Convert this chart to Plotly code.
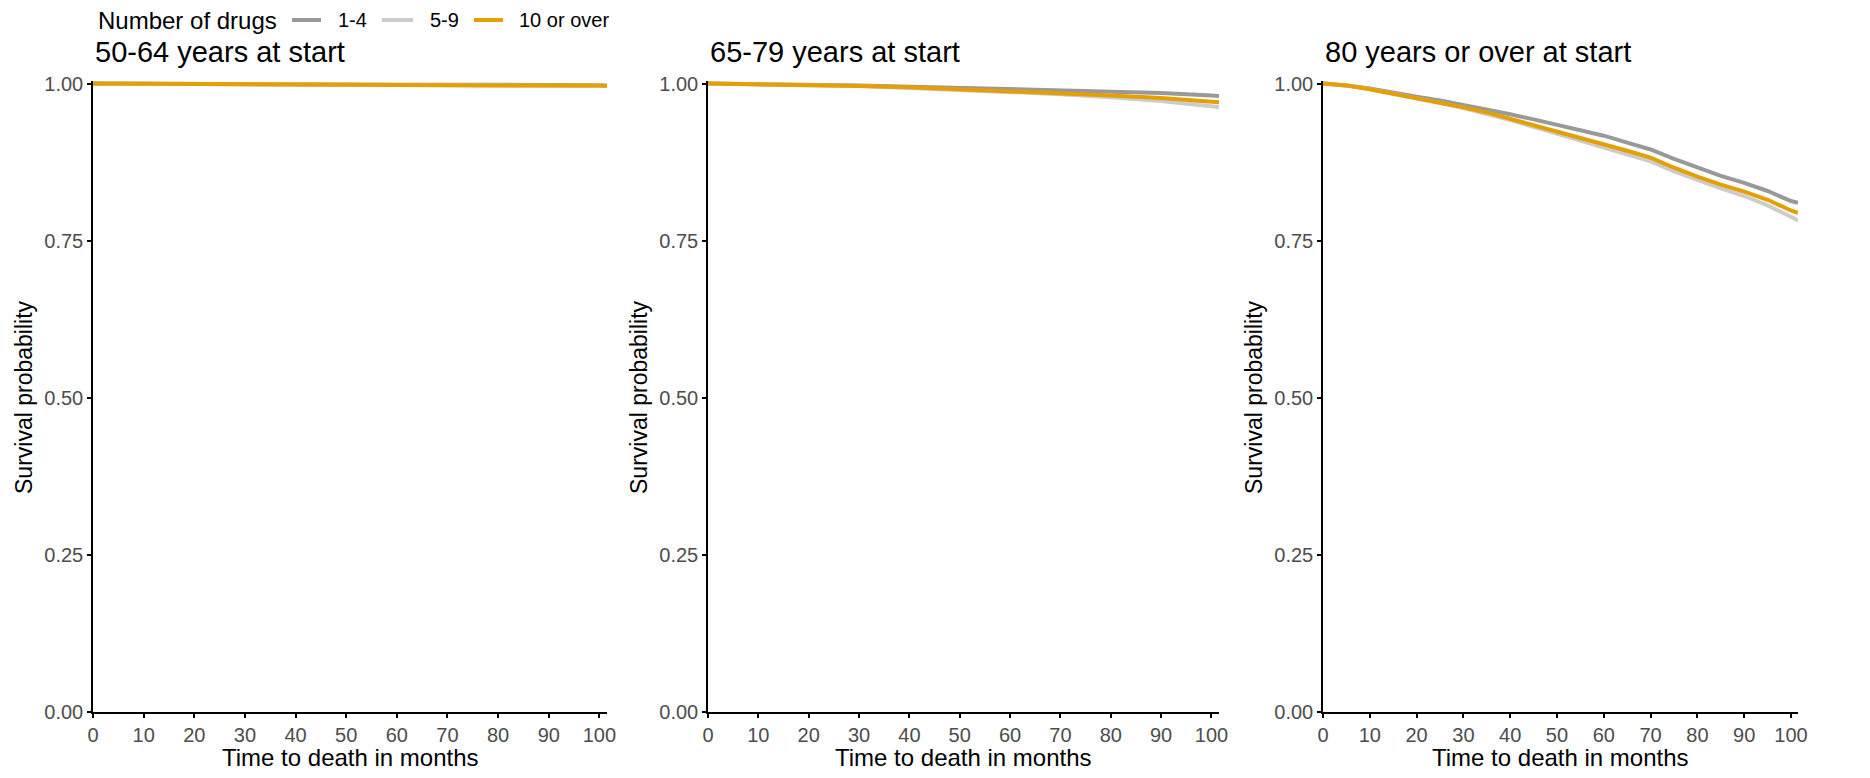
import plotly.graph_objects as go

# Kaplan-Meier survival estimates by number of drugs, read at selected months
groups = ["1-4", "5-9", "10 or over"]
colors = {"1-4": "#999999", "5-9": "#CCCCCC", "10 or over": "#E69F00"}

panel_titles = ["50-64 years at start", "65-79 years at start", "80 years or over at start"]
legend_title = "Number of drugs"

# 50-64 years at start
t_50 = [0, 20, 40, 60, 80, 100, 101.5]
s_50 = {
    "1-4":        [1.000, 0.999, 0.999, 0.998, 0.998, 0.997, 0.997],
    "5-9":        [1.000, 0.999, 0.998, 0.998, 0.997, 0.996, 0.996],
    "10 or over": [1.000, 0.999, 0.999, 0.998, 0.997, 0.997, 0.996],
}

# 65-79 years at start
t_65 = [0, 10, 20, 30, 40, 50, 60, 70, 80, 90, 100, 101.5]
s_65 = {
    "1-4":        [1.000, 0.9995, 0.998, 0.997, 0.995, 0.993, 0.991, 0.989, 0.987, 0.985, 0.981, 0.980],
    "5-9":        [1.000, 0.999, 0.998, 0.996, 0.993, 0.990, 0.987, 0.983, 0.978, 0.972, 0.964, 0.962],
    "10 or over": [1.000, 0.999, 0.998, 0.996, 0.994, 0.991, 0.988, 0.985, 0.981, 0.977, 0.971, 0.970],
}

# 80 years or over at start
t_80 = [0, 5, 10, 15, 20, 25, 30, 35, 40, 45, 50, 55, 60, 65, 70, 75, 80, 85, 90, 95, 100, 101.5]
s_80 = {
    "1-4":        [1.000, 0.997, 0.992, 0.985, 0.979, 0.973, 0.966, 0.959, 0.951, 0.943, 0.934,
                   0.925, 0.917, 0.906, 0.895, 0.880, 0.866, 0.853, 0.842, 0.829, 0.813, 0.810],
    "5-9":        [1.000, 0.997, 0.991, 0.984, 0.977, 0.969, 0.961, 0.952, 0.942, 0.931, 0.920,
                   0.909, 0.899, 0.888, 0.876, 0.860, 0.846, 0.833, 0.821, 0.806, 0.788, 0.782],
    "10 or over": [1.000, 0.997, 0.991, 0.984, 0.977, 0.970, 0.962, 0.954, 0.944, 0.933, 0.923,
                   0.913, 0.904, 0.893, 0.882, 0.866, 0.852, 0.839, 0.828, 0.815, 0.798, 0.794],
}

panels = [(t_50, s_50), (t_65, s_65), (t_80, s_80)]

x_ticks = [0, 10, 20, 30, 40, 50, 60, 70, 80, 90, 100]
y_ticks = [0.0, 0.25, 0.5, 0.75, 1.0]
y_tick_text = ["0.00", "0.25", "0.50", "0.75", "1.00"]

W, H = 1870, 778
FONT = "Liberation Sans, Arial, sans-serif"

# panel extents in pixels (left, right), shared top/bottom
panel_px = [(93, 607), (708, 1219), (1323, 1798)]
top_px, bottom_px = 81, 712

fig = go.Figure()

for i, (t, s) in enumerate(panels):
    ax = "" if i == 0 else str(i + 1)
    for g in groups:
        fig.add_trace(go.Scatter(
            x=t, y=s[g], mode="lines", name=g,
            line=dict(color=colors[g], width=4),
            xaxis="x" + ax, yaxis="y" + ax,
            showlegend=False,
        ))

annotations = []
shapes = []

# horizontal key above the first panel: title, then a line swatch + label per group
key_y = 1 - 20 / H
annotations.append(dict(
    text=legend_title, xref="paper", yref="paper", x=96 / W, y=key_y,
    xanchor="left", yanchor="middle", showarrow=False,
    font=dict(size=24, color="#000000", family=FONT),
))
key_swatch_px = {"1-4": (292, 321), "5-9": (382, 413), "10 or over": (474, 503)}
key_label_px = {"1-4": 336, "5-9": 428, "10 or over": 517}
for g in groups:
    x0, x1 = key_swatch_px[g]
    shapes.append(dict(
        type="line", xref="paper", yref="paper", x0=x0 / W, x1=x1 / W, y0=key_y, y1=key_y,
        line=dict(color=colors[g], width=4),
    ))
    annotations.append(dict(
        text=g, xref="paper", yref="paper", x=key_label_px[g] / W, y=key_y,
        xanchor="left", yanchor="middle", showarrow=False,
        font=dict(size=20, color="#000000", family=FONT),
    ))

layout = dict(
    width=W, height=H,
    margin=dict(l=0, r=0, t=0, b=0, autoexpand=False),
    paper_bgcolor="white", plot_bgcolor="white",
    font=dict(family=FONT, color="#000000"),
    showlegend=False,
)

axis_common = dict(
    showgrid=False, zeroline=False, showline=True, linecolor="black", linewidth=1.5,
    ticks="outside", ticklen=4, tickwidth=1.5, tickcolor="black", automargin=False,
    tickfont=dict(size=20, color="#4D4D4D", family=FONT),
)

for i, (l, r) in enumerate(panel_px):
    ax = "" if i == 0 else str(i + 1)
    layout["xaxis" + ax] = dict(
        axis_common, domain=[l / W, r / W], range=[0, 101.5],
        tickvals=x_ticks, anchor="y" + ax,
    )
    layout["yaxis" + ax] = dict(
        axis_common, domain=[1 - bottom_px / H, 1 - top_px / H], range=[0, 1.004],
        tickvals=y_ticks, ticktext=y_tick_text, anchor="x" + ax,
    )
    # panel title
    annotations.append(dict(
        text=panel_titles[i], xref="paper", yref="paper",
        x=l / W, y=1 - 52 / H, xanchor="left", yanchor="middle",
        showarrow=False, font=dict(size=29, color="#000000", family=FONT),
    ))
    # x axis title
    annotations.append(dict(
        text="Time to death in months", xref="paper", yref="paper",
        x=(l + r) / 2 / W, y=1 - 757 / H, xanchor="center", yanchor="middle",
        showarrow=False, font=dict(size=24, color="#000000", family=FONT),
    ))
    # y axis title
    annotations.append(dict(
        text="Survival probability", xref="paper", yref="paper",
        x=(l - 69) / W, y=1 - 397 / H, xanchor="center", yanchor="middle",
        textangle=-90, showarrow=False, font=dict(size=23, color="#000000", family=FONT),
    ))

layout["annotations"] = annotations
layout["shapes"] = shapes

fig.update_layout(**layout)
fig.write_html("out.html")
